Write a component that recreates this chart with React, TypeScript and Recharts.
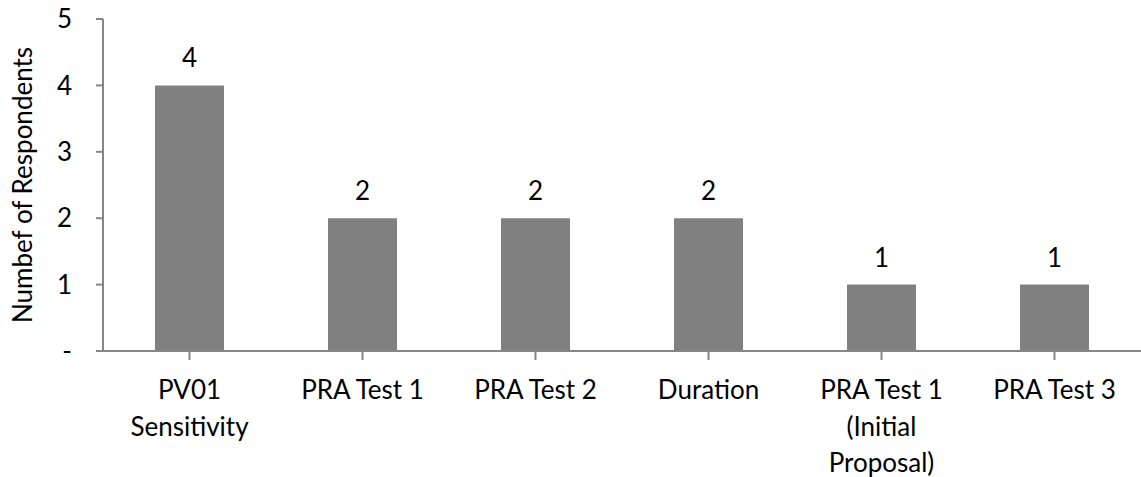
import React from 'react';
import { BarChart, Bar, XAxis, YAxis, LabelList } from 'recharts';

// categories, "\n" marks where the axis label wraps
const categories = [
  'PV01\nSensitivity',
  'PRA Test 1',
  'PRA Test 2',
  'Duration',
  'PRA Test 1\n(Initial\nProposal)',
  'PRA Test 3',
];
const respondents = [4, 2, 2, 2, 1, 1];
const yTicks = [0, 1, 2, 3, 4, 5];

const data = categories.map((name, i) => ({ name, value: respondents[i] }));

const FONT = 'Lato, "Open Sans", sans-serif';
const AXIS = '#868686';
const FS = 26;

function CategoryTick(props: any) {
  const { x, y, payload } = props;
  const lines = String(payload.value).split('\n');
  return (
    <g transform={`translate(${x},${y})`}>
      {lines.map((line, i) => (
        <text
          key={i}
          x={0}
          y={37 + i * 36.5}
          textAnchor="middle"
          fontFamily={FONT}
          fontSize={FS}
          fill="#000"
        >
          {line}
        </text>
      ))}
    </g>
  );
}

export default function App() {
  return (
    <div style={{ position: 'absolute', left: 0, top: 0, background: '#fff' }}>
      <BarChart
        width={1141}
        height={477}
        data={data}
        margin={{ top: 19, right: 0, left: 0, bottom: 0 }}
      >
        <XAxis
          dataKey="name"
          stroke={AXIS}
          strokeWidth={2}
          tickLine={{ stroke: AXIS, strokeWidth: 2 }}
          tickSize={9}
          interval={0}
          height={126}
          tick={<CategoryTick />}
        />
        <YAxis
          domain={[0, 5]}
          ticks={yTicks}
          width={103}
          stroke={AXIS}
          strokeWidth={2}
          tickLine={{ stroke: AXIS, strokeWidth: 2 }}
          tickSize={7}
          tickMargin={24}
          tickFormatter={(v: number) => (v === 0 ? '-' : String(v))}
          tick={{ fill: '#000', fontSize: FS, fontFamily: FONT }}
          label={{
            value: 'Numbef of Respondents',
            angle: -90,
            position: 'center',
            dx: -29,
            style: { textAnchor: 'middle', fill: '#000', fontSize: FS, fontFamily: FONT },
          }}
        />
        <Bar dataKey="value" fill="#808080" barSize={69} isAnimationActive={false}>
          <LabelList
            dataKey="value"
            position="top"
            offset={18}
            fill="#000"
            fontSize={FS}
            fontFamily={FONT}
          />
        </Bar>
      </BarChart>
    </div>
  );
}
